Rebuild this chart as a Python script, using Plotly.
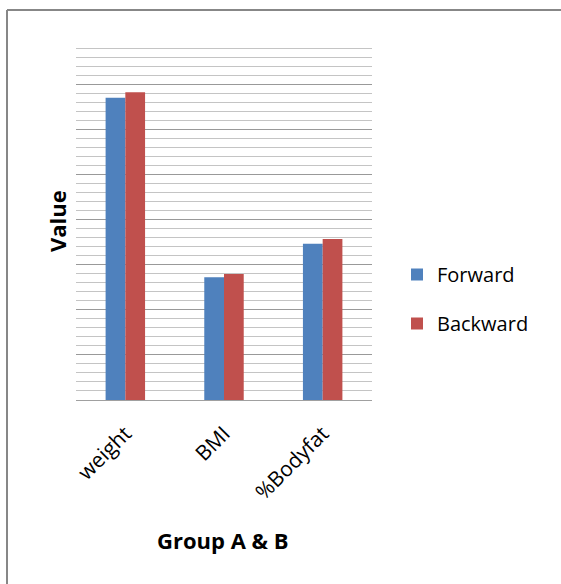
import plotly.graph_objects as go

# Measurements per group
categories = ["weight", "BMI", "%Bodyfat"]
forward = [67.0, 27.2, 34.6]
backward = [68.2, 27.9, 35.7]
series_names = ["Forward", "Backward"]
series_colors = ["#4F81BD", "#C0504D"]

W, H = 561, 584
L, R, T, B = 76, 189, 39, 184
pw, ph = W - L - R, H - T - B

def px_x(x):
    return (x - L) / pw

def px_y(y):
    return (H - B - y) / ph

fig = go.Figure()
for name, vals, col in zip(series_names, [forward, backward], series_colors):
    fig.add_trace(go.Bar(
        x=categories, y=vals, name=name,
        marker=dict(color=col, line=dict(color=col, width=0)),
        legendgroup=name,
    ))

font_family = "Open Sans, Liberation Sans, sans-serif"

fig.update_layout(
    width=W, height=H, autosize=False,
    margin=dict(l=L, r=R, t=T, b=B, pad=0),
    paper_bgcolor="white", plot_bgcolor="white",
    barmode="group", bargap=0.6, bargroupgap=0,
    font=dict(family=font_family, color="#000000"),
    showlegend=True,
    legend=dict(
        x=px_x(397), y=px_y(255), xanchor="left", yanchor="top",
        font=dict(size=20, family=font_family, color="#000000"),
        traceorder="grouped", tracegroupgap=20,
        bgcolor="rgba(0,0,0,0)", itemwidth=30,
    ),
    xaxis=dict(
        tickangle=-45, tickfont=dict(size=21, family=font_family),
        showgrid=False, showline=False,
        ticks="outside", ticklen=12, tickcolor="rgba(0,0,0,0)",
    ),
    yaxis=dict(
        range=[0, 80], dtick=10, showticklabels=False, ticks="",
        showgrid=True, gridcolor="#999999", gridwidth=1,
        zeroline=True, zerolinecolor="#a0a0a0", zerolinewidth=1,
        minor=dict(dtick=2, showgrid=True, gridcolor="#c4c4c4", gridwidth=1),
        showline=False,
    ),
    annotations=[
        dict(text="<b>Value</b>", x=px_x(57), y=px_y(221), xref="paper", yref="paper",
             textangle=-90, showarrow=False, font=dict(size=22, family=font_family),
             xanchor="center", yanchor="middle"),
        dict(text="<b>Group A &amp; B</b>", x=px_x(223), y=px_y(540), xref="paper", yref="paper",
             showarrow=False, font=dict(size=22, family=font_family),
             xanchor="center", yanchor="middle"),
    ],
    shapes=[
        dict(type="line", xref="paper", yref="paper",
             x0=px_x(7), x1=px_x(W + 2), y0=px_y(10), y1=px_y(10),
             line=dict(color="#878787", width=2)),
        dict(type="line", xref="paper", yref="paper",
             x0=px_x(7), x1=px_x(7), y0=px_y(10), y1=px_y(H + 2),
             line=dict(color="#878787", width=2)),
    ],
)

fig.write_html("out.html")
